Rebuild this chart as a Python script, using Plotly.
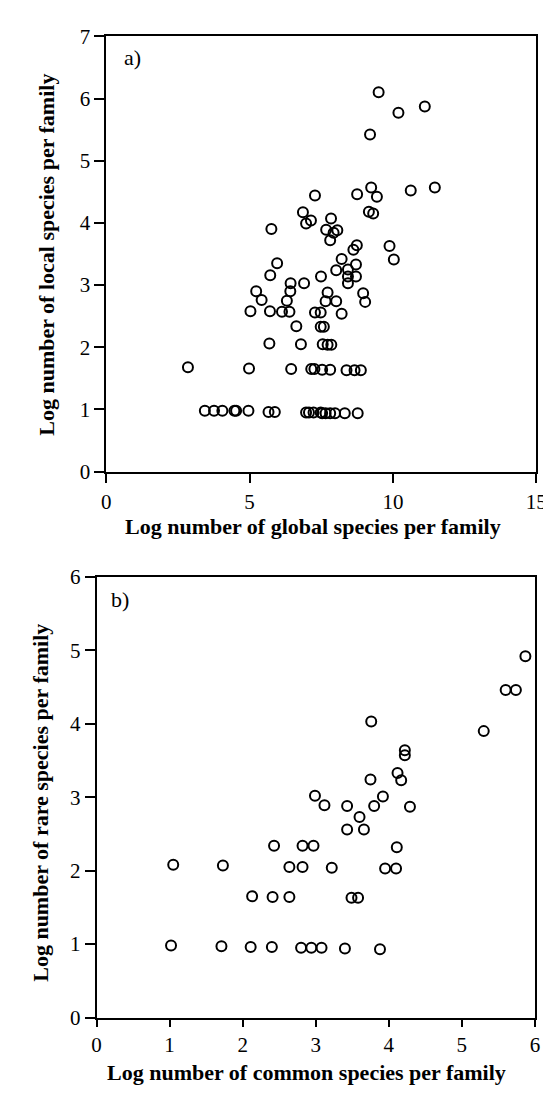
import plotly.graph_objects as go

# Panel a: log global species (x) vs log local species (y)
a_x = [9.50, 10.19, 11.11, 9.20,
       7.28, 8.75, 9.24, 9.44, 10.62, 11.46, 9.16, 9.31,
       6.86, 6.97, 7.14, 5.76, 7.84, 7.67, 8.06, 7.93, 7.81,
       8.74, 8.62, 9.88, 10.03, 8.21, 8.02, 5.96,
       5.72, 7.49, 8.43, 8.43, 8.43, 8.71, 8.71,
       6.43, 6.90, 5.23, 6.42, 7.72, 8.96, 5.42, 6.30, 7.65, 8.02, 9.03,
       5.03, 5.71, 6.13, 6.39, 7.28, 7.48, 8.21,
       6.63, 7.48, 7.59,
       5.69, 6.79, 7.55, 7.72, 7.85,
       2.85, 4.98, 6.45, 7.15, 7.26, 7.53, 7.81, 8.38, 8.66, 8.88,
       3.44, 3.76, 4.05, 4.47, 4.53, 4.96, 5.66, 5.88, 6.97, 7.07, 7.23,
       7.48, 7.53, 7.65, 7.81, 7.98, 8.32, 8.77]
a_y = [6.10, 5.77, 5.87, 5.42,
       4.44, 4.46, 4.57, 4.42, 4.52, 4.57, 4.18, 4.15,
       4.17, 3.99, 4.04, 3.90, 4.07, 3.89, 3.88, 3.84, 3.72,
       3.64, 3.57, 3.63, 3.41, 3.42, 3.24, 3.35,
       3.16, 3.14, 3.25, 3.14, 3.03, 3.33, 3.14,
       3.03, 3.03, 2.90, 2.90, 2.88, 2.87, 2.76, 2.75, 2.74, 2.74, 2.73,
       2.58, 2.58, 2.57, 2.57, 2.56, 2.56, 2.54,
       2.34, 2.33, 2.33,
       2.06, 2.05, 2.05, 2.04, 2.04,
       1.68, 1.66, 1.65, 1.65, 1.65, 1.64, 1.64, 1.63, 1.63, 1.63,
       0.98, 0.98, 0.98, 0.98, 0.98, 0.98, 0.96, 0.96, 0.95, 0.95, 0.95,
       0.95, 0.94, 0.94, 0.94, 0.94, 0.94, 0.94]

# Panel b: log common species (x) vs log rare species (y)
b_x = [5.87, 5.60, 5.74, 5.30, 3.76, 4.22, 4.22, 4.12, 4.17, 3.75,
       2.99, 3.92, 3.12, 3.43, 3.80, 4.29, 3.60, 3.43, 3.66,
       2.43, 2.82, 2.97, 4.11, 1.05, 1.73, 2.64, 2.82, 3.22, 3.95, 4.10,
       2.13, 2.41, 2.64, 3.49, 3.58,
       1.02, 1.71, 2.11, 2.40, 2.80, 2.94, 3.08, 3.40, 3.88]
b_y = [4.92, 4.46, 4.46, 3.90, 4.03, 3.64, 3.57, 3.33, 3.23, 3.24,
       3.02, 3.01, 2.89, 2.88, 2.88, 2.87, 2.73, 2.56, 2.56,
       2.34, 2.34, 2.34, 2.32, 2.08, 2.07, 2.05, 2.05, 2.04, 2.03, 2.03,
       1.65, 1.64, 1.64, 1.63, 1.63,
       0.98, 0.97, 0.96, 0.96, 0.95, 0.95, 0.95, 0.94, 0.93]

a_xticks = [0, 5, 10, 15]
a_yticks = [0, 1, 2, 3, 4, 5, 6, 7]
b_xticks = [0, 1, 2, 3, 4, 5, 6]
b_yticks = [0, 1, 2, 3, 4, 5, 6]

W, H = 551, 1103
FONT = "Liberation Serif, Times New Roman, serif"

def px(x):
    return x / W

def py(y):
    return 1 - y / H

marker = dict(symbol="circle-open", size=10, color="black",
              line=dict(color="black", width=2))

fig = go.Figure()
fig.add_trace(go.Scatter(x=a_x, y=a_y, mode="markers", marker=marker,
                         xaxis="x", yaxis="y", showlegend=False))
fig.add_trace(go.Scatter(x=b_x, y=b_y, mode="markers", marker=marker,
                         xaxis="x2", yaxis="y2", showlegend=False))

axis_common = dict(showgrid=False, zeroline=False, showline=True,
                   linecolor="black", linewidth=1.5, mirror=True,
                   ticks="outside", tickwidth=1.5,
                   tickcolor="black",
                   tickfont=dict(family=FONT, size=21, color="black"))

fig.update_layout(
    width=W, height=H,
    margin=dict(l=0, r=0, t=0, b=0),
    paper_bgcolor="white", plot_bgcolor="white",
    xaxis=dict(domain=[px(96), px(539)], range=[0, 15], ticklen=10,
               tickvals=a_xticks, anchor="y", **axis_common),
    yaxis=dict(domain=[py(461.7), py(16.7)], range=[0, 7], ticklen=10,
               tickvals=a_yticks, anchor="x", **axis_common),
    xaxis2=dict(domain=[px(86), px(537.5)], range=[0, 6], ticklen=8,
                tickvals=b_xticks, anchor="y2", **axis_common),
    yaxis2=dict(domain=[py(1019.7), py(569.3)], range=[0, 6], ticklen=10,
                tickvals=b_yticks, anchor="x2", **axis_common),
)

title_font = dict(family=FONT, size=22, color="black")
annots = [
    dict(text="<b>Log number of global species per family</b>",
         x=px(309), y=py(518)),
    dict(text="<b>Log number of common species per family</b>",
         x=px(302), y=py(1076)),
    dict(text="<b>Log number of local species per family</b>",
         x=px(35), y=py(240), textangle=-90),
    dict(text="<b>Log number of rare species per family</b>",
         x=px(28), y=py(800), textangle=-90),
]
for a in annots:
    fig.add_annotation(xref="paper", yref="paper", showarrow=False,
                       xanchor="center", yanchor="middle",
                       font=title_font, **a)

fig.add_annotation(text="a)", xref="paper", yref="paper", x=px(123), y=py(38),
                   showarrow=False, xanchor="center", yanchor="middle",
                   font=dict(family=FONT, size=22, color="black"))
fig.add_annotation(text="b)", xref="paper", yref="paper", x=px(110), y=py(592),
                   showarrow=False, xanchor="center", yanchor="middle",
                   font=dict(family=FONT, size=22, color="black"))

fig.write_html("out.html")
